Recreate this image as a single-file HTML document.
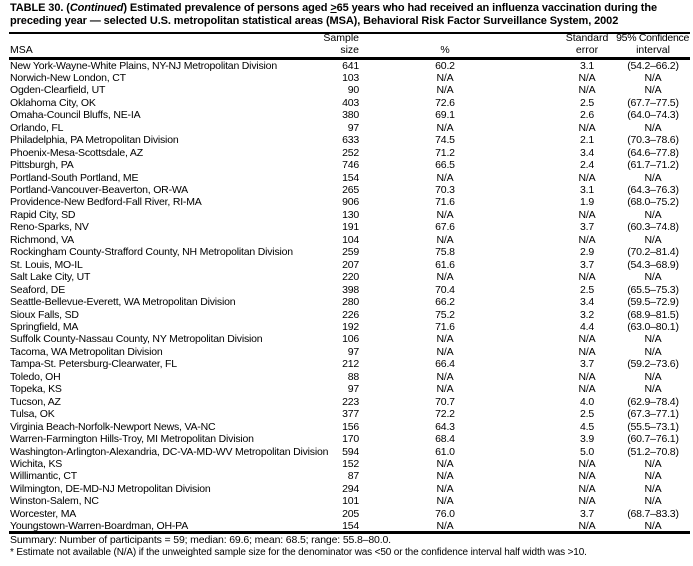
<!DOCTYPE html>
<html><head><meta charset="utf-8"><style>
body{margin:0;background:#fff;width:693px;height:566px;overflow:hidden;font-family:"Liberation Sans",Arial,sans-serif;color:#000;position:relative}
.t{position:absolute;left:10px;font-weight:bold;font-size:11px;white-space:nowrap;letter-spacing:-0.1px}
.h{position:absolute;font-size:10.5px;white-space:nowrap}
.line{position:absolute;left:9px;width:681px;background:#000}
#rows{position:absolute;left:0;top:59.5px;width:693px}
.r{height:12.46px;line-height:12.46px;font-size:10.5px;position:relative;white-space:nowrap;letter-spacing:-0.2px}
.r span{position:absolute;top:0}
.a{left:10px}
.b{right:334px;text-align:right}
.c{left:415px;width:60px;text-align:center}
.d{left:557px;width:60px;text-align:center}
.e{left:618px;width:70px;text-align:center}
</style></head><body>
<div class="t" style="top:2px">TABLE 30. (<i>Continued</i>) Estimated prevalence of persons aged <u>&gt;</u>65 years who had received an influenza vaccination during the</div>
<div class="t" style="top:15px">preceding year — selected U.S. metropolitan statistical areas (MSA), Behavioral Risk Factor Surveillance System, 2002</div>
<div class="line" style="top:32px;height:2px"></div>
<div class="h" style="top:32px;right:334px">Sample</div>
<div class="h" style="top:44px;left:10px">MSA</div>
<div class="h" style="top:44px;right:334px">size</div>
<div class="h" style="top:44px;left:415px;width:60px;text-align:center">%</div>
<div class="h" style="top:32px;left:557px;width:60px;text-align:center">Standard</div>
<div class="h" style="top:44px;left:557px;width:60px;text-align:center">error</div>
<div class="h" style="top:32px;right:4px;letter-spacing:-0.3px">95% Confidence</div>
<div class="h" style="top:44px;left:618px;width:70px;text-align:center">interval</div>
<div class="line" style="top:57px;height:3px"></div>
<div id="rows">
<div class="r"><span class="a">New York-Wayne-White Plains, NY-NJ Metropolitan Division</span><span class="b">641</span><span class="c">60.2</span><span class="d">3.1</span><span class="e">(54.2–66.2)</span></div>
<div class="r"><span class="a">Norwich-New London, CT</span><span class="b">103</span><span class="c">N/A</span><span class="d">N/A</span><span class="e">N/A</span></div>
<div class="r"><span class="a">Ogden-Clearfield, UT</span><span class="b">90</span><span class="c">N/A</span><span class="d">N/A</span><span class="e">N/A</span></div>
<div class="r"><span class="a">Oklahoma City, OK</span><span class="b">403</span><span class="c">72.6</span><span class="d">2.5</span><span class="e">(67.7–77.5)</span></div>
<div class="r"><span class="a">Omaha-Council Bluffs, NE-IA</span><span class="b">380</span><span class="c">69.1</span><span class="d">2.6</span><span class="e">(64.0–74.3)</span></div>
<div class="r"><span class="a">Orlando, FL</span><span class="b">97</span><span class="c">N/A</span><span class="d">N/A</span><span class="e">N/A</span></div>
<div class="r"><span class="a">Philadelphia, PA Metropolitan Division</span><span class="b">633</span><span class="c">74.5</span><span class="d">2.1</span><span class="e">(70.3–78.6)</span></div>
<div class="r"><span class="a">Phoenix-Mesa-Scottsdale, AZ</span><span class="b">252</span><span class="c">71.2</span><span class="d">3.4</span><span class="e">(64.6–77.8)</span></div>
<div class="r"><span class="a">Pittsburgh, PA</span><span class="b">746</span><span class="c">66.5</span><span class="d">2.4</span><span class="e">(61.7–71.2)</span></div>
<div class="r"><span class="a">Portland-South Portland, ME</span><span class="b">154</span><span class="c">N/A</span><span class="d">N/A</span><span class="e">N/A</span></div>
<div class="r"><span class="a">Portland-Vancouver-Beaverton, OR-WA</span><span class="b">265</span><span class="c">70.3</span><span class="d">3.1</span><span class="e">(64.3–76.3)</span></div>
<div class="r"><span class="a">Providence-New Bedford-Fall River, RI-MA</span><span class="b">906</span><span class="c">71.6</span><span class="d">1.9</span><span class="e">(68.0–75.2)</span></div>
<div class="r"><span class="a">Rapid City, SD</span><span class="b">130</span><span class="c">N/A</span><span class="d">N/A</span><span class="e">N/A</span></div>
<div class="r"><span class="a">Reno-Sparks, NV</span><span class="b">191</span><span class="c">67.6</span><span class="d">3.7</span><span class="e">(60.3–74.8)</span></div>
<div class="r"><span class="a">Richmond, VA</span><span class="b">104</span><span class="c">N/A</span><span class="d">N/A</span><span class="e">N/A</span></div>
<div class="r"><span class="a">Rockingham County-Strafford County, NH Metropolitan Division</span><span class="b">259</span><span class="c">75.8</span><span class="d">2.9</span><span class="e">(70.2–81.4)</span></div>
<div class="r"><span class="a">St. Louis, MO-IL</span><span class="b">207</span><span class="c">61.6</span><span class="d">3.7</span><span class="e">(54.3–68.9)</span></div>
<div class="r"><span class="a">Salt Lake City, UT</span><span class="b">220</span><span class="c">N/A</span><span class="d">N/A</span><span class="e">N/A</span></div>
<div class="r"><span class="a">Seaford, DE</span><span class="b">398</span><span class="c">70.4</span><span class="d">2.5</span><span class="e">(65.5–75.3)</span></div>
<div class="r"><span class="a">Seattle-Bellevue-Everett, WA Metropolitan Division</span><span class="b">280</span><span class="c">66.2</span><span class="d">3.4</span><span class="e">(59.5–72.9)</span></div>
<div class="r"><span class="a">Sioux Falls, SD</span><span class="b">226</span><span class="c">75.2</span><span class="d">3.2</span><span class="e">(68.9–81.5)</span></div>
<div class="r"><span class="a">Springfield, MA</span><span class="b">192</span><span class="c">71.6</span><span class="d">4.4</span><span class="e">(63.0–80.1)</span></div>
<div class="r"><span class="a">Suffolk County-Nassau County, NY Metropolitan Division</span><span class="b">106</span><span class="c">N/A</span><span class="d">N/A</span><span class="e">N/A</span></div>
<div class="r"><span class="a">Tacoma, WA Metropolitan Division</span><span class="b">97</span><span class="c">N/A</span><span class="d">N/A</span><span class="e">N/A</span></div>
<div class="r"><span class="a">Tampa-St. Petersburg-Clearwater, FL</span><span class="b">212</span><span class="c">66.4</span><span class="d">3.7</span><span class="e">(59.2–73.6)</span></div>
<div class="r"><span class="a">Toledo, OH</span><span class="b">88</span><span class="c">N/A</span><span class="d">N/A</span><span class="e">N/A</span></div>
<div class="r"><span class="a">Topeka, KS</span><span class="b">97</span><span class="c">N/A</span><span class="d">N/A</span><span class="e">N/A</span></div>
<div class="r"><span class="a">Tucson, AZ</span><span class="b">223</span><span class="c">70.7</span><span class="d">4.0</span><span class="e">(62.9–78.4)</span></div>
<div class="r"><span class="a">Tulsa, OK</span><span class="b">377</span><span class="c">72.2</span><span class="d">2.5</span><span class="e">(67.3–77.1)</span></div>
<div class="r"><span class="a">Virginia Beach-Norfolk-Newport News, VA-NC</span><span class="b">156</span><span class="c">64.3</span><span class="d">4.5</span><span class="e">(55.5–73.1)</span></div>
<div class="r"><span class="a">Warren-Farmington Hills-Troy, MI Metropolitan Division</span><span class="b">170</span><span class="c">68.4</span><span class="d">3.9</span><span class="e">(60.7–76.1)</span></div>
<div class="r"><span class="a">Washington-Arlington-Alexandria, DC-VA-MD-WV Metropolitan Division</span><span class="b">594</span><span class="c">61.0</span><span class="d">5.0</span><span class="e">(51.2–70.8)</span></div>
<div class="r"><span class="a">Wichita, KS</span><span class="b">152</span><span class="c">N/A</span><span class="d">N/A</span><span class="e">N/A</span></div>
<div class="r"><span class="a">Willimantic, CT</span><span class="b">87</span><span class="c">N/A</span><span class="d">N/A</span><span class="e">N/A</span></div>
<div class="r"><span class="a">Wilmington, DE-MD-NJ Metropolitan Division</span><span class="b">294</span><span class="c">N/A</span><span class="d">N/A</span><span class="e">N/A</span></div>
<div class="r"><span class="a">Winston-Salem, NC</span><span class="b">101</span><span class="c">N/A</span><span class="d">N/A</span><span class="e">N/A</span></div>
<div class="r"><span class="a">Worcester, MA</span><span class="b">205</span><span class="c">76.0</span><span class="d">3.7</span><span class="e">(68.7–83.3)</span></div>
<div class="r"><span class="a">Youngstown-Warren-Boardman, OH-PA</span><span class="b">154</span><span class="c">N/A</span><span class="d">N/A</span><span class="e">N/A</span></div>
</div>
<div class="line" style="top:531px;height:3px"></div>
<div class="h" style="top:534px;left:10px;letter-spacing:-0.15px">Summary: Number of participants = 59; median: 69.6; mean: 68.5; range: 55.8–80.0.</div>
<div class="h" style="top:547px;left:10px;font-size:10px;letter-spacing:-0.15px">* Estimate not available (N/A) if the unweighted sample size for the denominator was &lt;50 or the confidence interval half width was &gt;10.</div>
</body></html>
